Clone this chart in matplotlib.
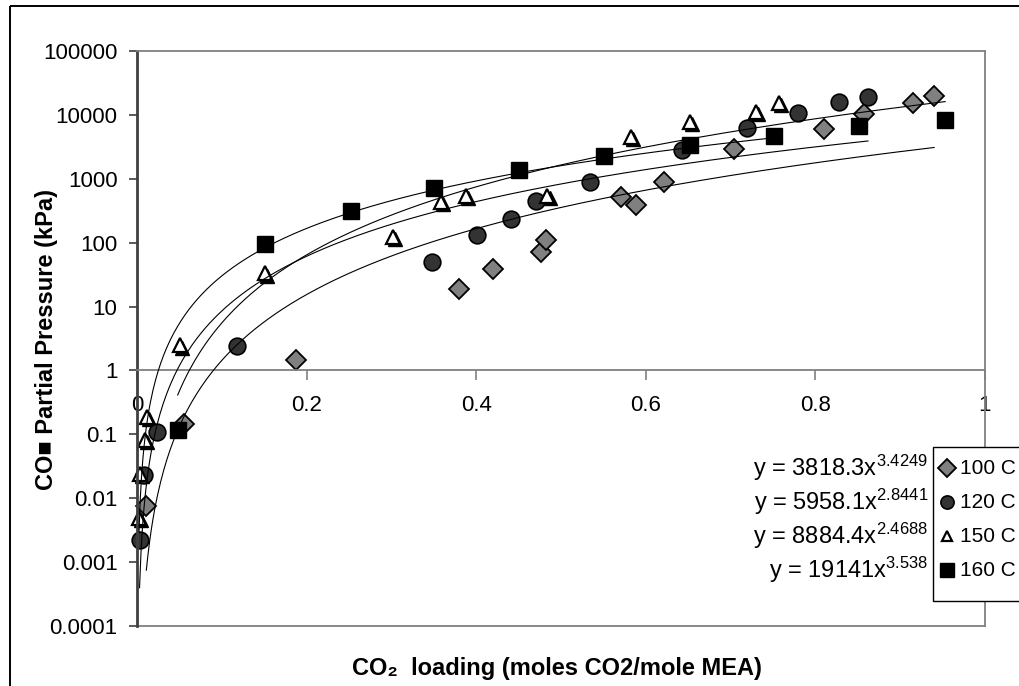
import numpy as np
import matplotlib
matplotlib.use('Agg')
import matplotlib.pyplot as plt
from matplotlib.patches import Rectangle
from matplotlib.ticker import NullLocator
from matplotlib.transforms import offset_copy

# CO2 loading (mol CO2 / mol MEA) and CO2 partial pressure (kPa)
x_100 = [0.011, 0.055, 0.188, 0.380, 0.420, 0.477, 0.482, 0.571, 0.589, 0.621, 0.704, 0.810, 0.857, 0.915, 0.940]
y_100 = [0.0075, 0.144, 1.48, 19, 39, 72, 112, 525, 390, 890, 2950, 6050, 10400, 15500, 19800]

x_120 = [0.003, 0.0083, 0.0234, 0.118, 0.348, 0.401, 0.4415, 0.471, 0.534, 0.643, 0.719, 0.779, 0.828, 0.862]
y_120 = [0.0022, 0.023, 0.107, 2.45, 50, 133, 237, 455, 895, 2830, 6300, 10700, 15800, 19200]

x_150 = [0.0024, 0.0035, 0.0094, 0.0118, 0.051, 0.151, 0.302, 0.358, 0.388, 0.484, 0.583, 0.652, 0.730, 0.757]
y_150 = [0.0049, 0.024, 0.081, 0.185, 2.46, 33, 124, 437, 540, 540, 4540, 7800, 11200, 15400]

x_160 = [0.048, 0.151, 0.252, 0.350, 0.450, 0.551, 0.652, 0.751, 0.851, 0.953]
y_160 = [0.115, 96, 316, 720, 1380, 2290, 3390, 4700, 6700, 8300]

series_labels = ['100 C', '120 C', '150 C', '160 C']

# power-law trendlines y = a * x^b
fit_a = [3818.3, 5958.1, 8884.4, 19141]
fit_b = [3.4249, 2.8441, 2.4688, 3.538]

x_ticks = [0, 0.2, 0.4, 0.6, 0.8, 1]
x_ticklabels = ['0', '0.2', '0.4', '0.6', '0.8', '1']
y_ticks = [1e-4, 1e-3, 1e-2, 1e-1, 1, 10, 100, 1000, 10000, 100000]
y_ticklabels = ['0.0001', '0.001', '0.01', '0.1', '1', '10', '100', '1000', '10000', '100000']

plt.rcParams['font.family'] = ['Liberation Sans', 'DejaVu Sans']
plt.rcParams['mathtext.default'] = 'regular'

W, H = 1019, 686
gray = '#808080'

fig = plt.figure(figsize=(W / 100, H / 100), dpi=100)
fig.patch.set_facecolor('white')

ax = fig.add_axes([137 / W, 1 - 626 / H, 848 / W, 575 / H])
ax.set_yscale('log')
ax.set_xlim(0, 1)
ax.set_ylim(1e-4, 1e5)
ax.set_xticks(x_ticks)
ax.set_xticklabels(x_ticklabels)
ax.set_yticks(y_ticks)
ax.set_yticklabels(y_ticklabels)
ax.yaxis.set_minor_locator(NullLocator())

ax.spines['bottom'].set_position(('data', 1))
for s in ['bottom', 'top', 'right']:
    ax.spines[s].set_color(gray)
    ax.spines[s].set_linewidth(1.3)
ax.spines['left'].set_color('#404040')
ax.spines['left'].set_linewidth(2)
ax.axhline(1e-4, color=gray, linewidth=1.3, clip_on=False)

ax.tick_params(axis='x', direction='out', length=7, width=1.2, color=gray, pad=11, labelsize=16)
ax.tick_params(axis='y', direction='out', length=6, width=1.2, color='#404040', pad=8, labelsize=16)

# marker styles per series
styles = [
    dict(marker='D', markerfacecolor='#808080', markeredgecolor='black', markeredgewidth=1.3),
    dict(marker='o', markerfacecolor='#333333', markeredgecolor='black', markeredgewidth=1.2),
    dict(marker='^', markerfacecolor='white', markeredgecolor='black', markeredgewidth=1.6),
    dict(marker='s', markerfacecolor='black', markeredgecolor='black', markeredgewidth=1),
]
plot_sizes = [10, 12, 10, 12]
legend_sizes = [9, 9.5, 6.5, 10.5]

xs_all = [x_100, x_120, x_150, x_160]
ys_all = [y_100, y_120, y_150, y_160]

# dark shadow under the open triangles
shadow = offset_copy(ax.transData, fig=fig, x=1.5, y=-1.5, units='points')
ax.plot(x_150, y_150, linestyle='none', marker='^', markersize=10, color='black',
        transform=shadow, clip_on=False, zorder=2)

for xd, yd, st, ms in zip(xs_all, ys_all, styles, plot_sizes):
    ax.plot(xd, yd, linestyle='none', markersize=ms, clip_on=False, zorder=2, **st)

# trendlines over each series' loading range
for xd, a, b in zip(xs_all, fit_a, fit_b):
    xs = np.linspace(min(xd), max(xd), 500)
    ax.plot(xs, a * xs ** b, color='black', linewidth=0.8, zorder=3)

# overlay in pixel units for frame, equations and legend
lay = fig.add_axes([0, 0, 1, 1], zorder=5)
lay.set_xlim(0, W)
lay.set_ylim(H, 0)
lay.axis('off')
lay.patch.set_alpha(0)

lay.add_patch(Rectangle((10, 6), W + 50, H + 50, fill=False, edgecolor='black', linewidth=1.4, clip_on=False))

row_y = [468, 502, 536, 570]
for a, b, py in zip(fit_a, fit_b, row_y):
    lay.text(928, py, 'y = %gx$^{%g}$' % (a, b), ha='right', va='center', fontsize=17)

lay.add_patch(Rectangle((933, 447), 200, 154, facecolor='white', edgecolor='black', linewidth=1.0,
                        clip_on=False))
for lab, st, ms, py in zip(series_labels, styles, legend_sizes, row_y):
    lay.plot([947], [py], linestyle='none', markersize=ms, clip_on=False, **st)
    lay.text(960, py, lab, ha='left', va='center', fontsize=15)

lay.text(47, 340, 'CO\u25a0 Partial Pressure (kPa)', rotation=90, ha='center', va='center',
         fontsize=17, fontweight='bold')
lay.text(557, 668, 'CO\u2082  loading (moles CO2/mole MEA)', ha='center', va='center',
         fontsize=17, fontweight='bold')

fig.savefig('out.png', dpi=100)
